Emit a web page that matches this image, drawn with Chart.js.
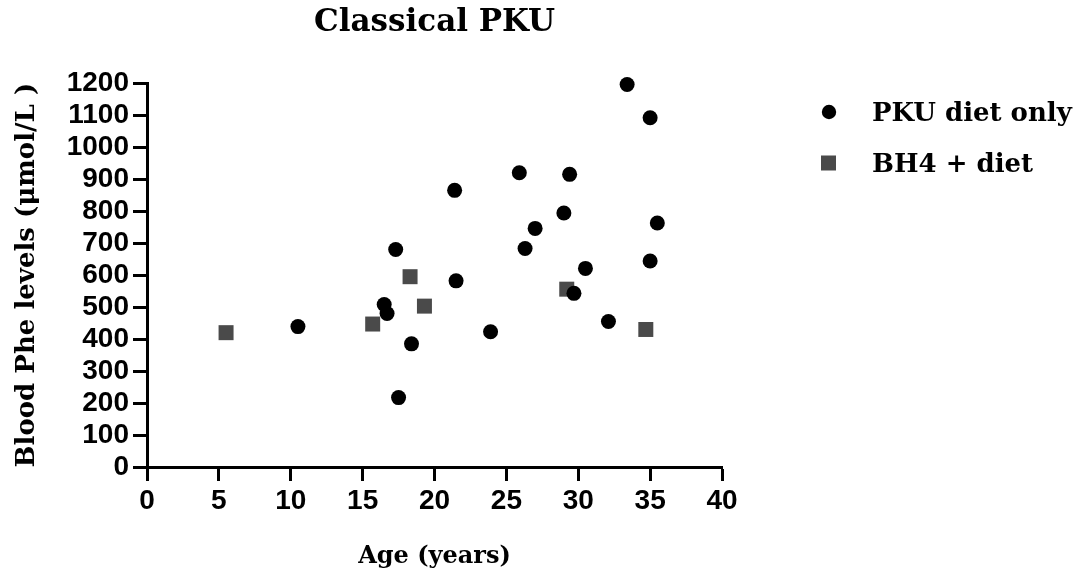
<!DOCTYPE html>
<html>
<head>
<meta charset="utf-8">
<script src="https://cdn.jsdelivr.net/npm/chart.js@4"></script>
<style>
  html, body { margin: 0; padding: 0; background: #fff; }
  #wrap { width: 1080px; height: 577px; }
</style>
</head>
<body>
<div id="wrap"><canvas id="grafico" width="1080" height="577"></canvas></div>
<script>
// Datos
const pkuAge = [10.5, 16.5, 16.7, 17.3, 17.5, 18.4, 21.4, 21.5, 23.9, 25.9, 26.3, 27.0, 29.0, 29.4, 29.7, 30.5, 32.1, 33.4, 35.0, 35.0, 35.5];
const pkuPhe = [439, 508, 480, 680, 217, 385, 865, 582, 423, 920, 683, 746, 794, 915, 543, 621, 455, 1196, 1092, 644, 763];
const bh4Age = [5.5, 15.7, 18.3, 19.3, 29.2, 34.7];
const bh4Phe = [420, 447, 595, 503, 556, 430];
const seriesLabels = ['PKU diet only', 'BH4 + diet'];
const xTicks = [0, 5, 10, 15, 20, 25, 30, 35, 40];
const yTicks = [0, 100, 200, 300, 400, 500, 600, 700, 800, 900, 1000, 1100, 1200];

const serif = "'DejaVu Serif', 'Liberation Serif', serif";
const sans = "'Liberation Sans', Arial, sans-serif";

const toPoints = (xs, ys) => xs.map((x, i) => ({ x: x, y: ys[i] }));

// leyenda dibujada a mano a la derecha
const leyenda = {
    id: 'leyenda',
    afterDraw(chart) {
        const ctx = chart.ctx;
        const rows = [112, 163];
        ctx.save();
        chart.data.datasets.forEach((ds, i) => {
            const y = rows[i];
            ctx.fillStyle = ds.backgroundColor;
            if (ds.pointStyle === 'rect') {
                ctx.fillRect(821, y - 7.5, 15, 15);
            } else {
                ctx.beginPath();
                ctx.arc(829, y, 7.2, 0, Math.PI * 2);
                ctx.fill();
            }
            ctx.fillStyle = '#000';
            ctx.font = "bold 26px " + serif;
            ctx.textBaseline = 'middle';
            ctx.textAlign = 'left';
            ctx.fillText(ds.label, 872, y + 2);
        });
        ctx.restore();
    }
};

const ctx = document.getElementById('grafico').getContext('2d');
const chart = new Chart(ctx, {
    type: 'scatter',
    data: {
        datasets: [{
            label: seriesLabels[0],
            data: toPoints(pkuAge, pkuPhe),
            pointStyle: 'circle',
            pointRadius: 7.5,
            pointHoverRadius: 7.5,
            backgroundColor: '#000',
            borderWidth: 0,
            clip: false
        }, {
            label: seriesLabels[1],
            data: toPoints(bh4Age, bh4Phe),
            pointStyle: 'rect',
            pointRadius: 10.6,
            pointHoverRadius: 10.6,
            backgroundColor: '#4a4a4a',
            borderWidth: 0,
            clip: false
        }]
    },
    options: {
        responsive: false,
        animation: false,
        devicePixelRatio: 1,
        layout: { padding: { left: 0, right: 358, top: 0, bottom: 0 } },
        plugins: {
            legend: { display: false },
            tooltip: { enabled: false },
            title: {
                display: true,
                text: 'Classical PKU',
                fullSize: false,
                color: '#000',
                font: { family: serif, size: 31, weight: 'bold', lineHeight: 1.2 },
                padding: { top: 4, bottom: 42 }
            }
        },
        scales: {
            x: {
                type: 'linear',
                min: xTicks[0],
                max: xTicks[xTicks.length - 1],
                afterBuildTicks: (s) => { s.ticks = xTicks.map(v => ({ value: v })); },
                afterFit: (s) => { s.height = 110; },
                ticks: {
                    color: '#000',
                    font: { family: sans, size: 28, weight: 'bold', lineHeight: 1 },
                    padding: 6,
                    autoSkip: false,
                    maxRotation: 0,
                    callback: (v) => String(v)
                },
                grid: { drawOnChartArea: false, drawTicks: true, tickLength: 14, tickWidth: 3, tickColor: '#000' },
                border: { color: '#000', width: 3 },
                title: {
                    display: true,
                    text: 'Age (years)',
                    color: '#000',
                    font: { family: serif, size: 24, weight: 'bold', lineHeight: 1.2 },
                    padding: { top: 0, bottom: 6 }
                }
            },
            y: {
                type: 'linear',
                min: yTicks[0],
                max: yTicks[yTicks.length - 1],
                afterBuildTicks: (s) => { s.ticks = yTicks.map(v => ({ value: v })); },
                afterFit: (s) => { s.width = 147; },
                ticks: {
                    color: '#000',
                    font: { family: sans, size: 28, weight: 'bold', lineHeight: 1 },
                    padding: 4,
                    autoSkip: false,
                    callback: (v) => String(v)
                },
                grid: { drawOnChartArea: false, drawTicks: true, tickLength: 14, tickWidth: 3, tickColor: '#000' },
                border: { color: '#000', width: 3 },
                title: {
                    display: true,
                    text: 'Blood Phe levels (μmol/L )',
                    color: '#000',
                    font: { family: serif, size: 26, weight: 'bold', lineHeight: 1.2 },
                    padding: { top: 12, bottom: 0 }
                }
            }
        }
    },
    plugins: [leyenda]
});
</script>
</body>
</html>
